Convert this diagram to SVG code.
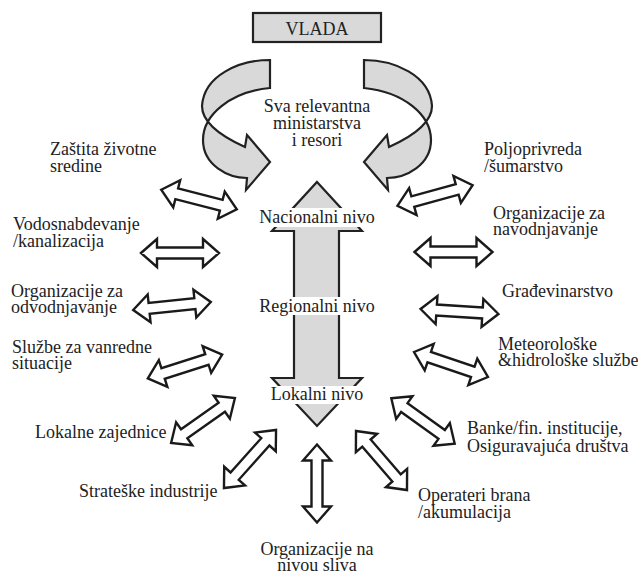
<svg xmlns="http://www.w3.org/2000/svg" xmlns:xlink="http://www.w3.org/1999/xlink" width="638" height="574" viewBox="0 0 638 574">
<style>
text{font-family:"Liberation Serif","Times New Roman",serif;font-size:18px;fill:#222}
.c{text-anchor:middle}
.g{fill:#d9d9d9;stroke:#222;stroke-width:2.2;stroke-linejoin:miter}
.da{fill:#fff;stroke:#1a1a1a;stroke-width:2.4;stroke-linejoin:miter}
.bg{fill:#fff}
</style>
<defs>
<path id="da" d="M-39,0 L-23,-14 L-23,-5.5 L23,-5.5 L23,-14 L39,0 L23,14 L23,5.5 L-23,5.5 L-23,14 Z"/>
<path id="curl" d="M270,60 C240,60 204,75 202,106 C202,124 225,138 245,147 L247,135 L270,162 L246,190 L247,178 C228,178 203,165 203,140 C203,115 230,92 270,88 Z"/>
</defs>
<g id="vlada">
<rect x="253" y="13" width="128" height="29" class="g"/>
<text x="317" y="34.5" class="c">VLADA</text>
</g>
<g id="ministarstva">
<use xlink:href="#curl" class="g"/>
<use xlink:href="#curl" class="g" transform="translate(634,0) scale(-1,1)"/>
<text x="317" y="112" class="c">Sva relevantna</text>
<text x="317" y="129" class="c">ministarstva</text>
<text x="317" y="146" class="c">i resori</text>
</g>
<g id="nivoi">
<path class="g" d="M317,182 L362,231 L339,231 L339,378 L362,378 L317,426 L272,378 L294,378 L294,231 L272,231 Z"/>
<rect class="bg" x="259" y="208" width="116" height="19"/>
<text x="317" y="223" class="c">Nacionalni nivo</text>
<rect class="bg" x="260" y="297" width="114" height="18"/>
<text x="317" y="312" class="c">Regionalni nivo</text>
<rect class="bg" x="270" y="386" width="94" height="18"/>
<text x="317" y="400" class="c">Lokalni nivo</text>
</g>
<g id="connectors" class="da">
<use xlink:href="#da" transform="translate(199,199.5) rotate(14.4)"/>
<use xlink:href="#da" transform="translate(180,253)"/>
<use xlink:href="#da" transform="translate(172,306) rotate(-5.9)"/>
<use xlink:href="#da" transform="translate(185,366.5) rotate(-17.7)"/>
<use xlink:href="#da" transform="translate(203,420.5) rotate(-35.1)"/>
<use xlink:href="#da" transform="translate(250,459) rotate(-48.1)"/>
<use xlink:href="#da" transform="translate(317,483.5) rotate(90)"/>
<use xlink:href="#da" transform="translate(435,195.5) rotate(-15.4)"/>
<use xlink:href="#da" transform="translate(453.5,252)"/>
<use xlink:href="#da" transform="translate(459.5,311.5) rotate(3.7)"/>
<use xlink:href="#da" transform="translate(451,364.5) rotate(18.7)"/>
<use xlink:href="#da" transform="translate(423,421) rotate(35.7)"/>
<use xlink:href="#da" transform="translate(381.5,460.5) rotate(49.2)"/>
</g>
<g id="zastita"><text x="50" y="155">Zaštita životne</text><text x="50" y="172">sredine</text></g>
<g id="vodosnabdevanje"><text x="13" y="230">Vodosnabdevanje</text><text x="13" y="247">/kanalizacija</text></g>
<g id="odvodnjavanje"><text x="11" y="297">Organizacije za</text><text x="11" y="313">odvodnjavanje</text></g>
<g id="sluzbe"><text x="12" y="353">Službe za vanredne</text><text x="12" y="369">situacije</text></g>
<g id="lokalne"><text x="35" y="438">Lokalne zajednice</text></g>
<g id="strateske"><text x="79" y="497">Strateške industrije</text></g>
<g id="sliv"><text x="317" y="555" class="c">Organizacije na</text><text x="317" y="571" class="c">nivou sliva</text></g>
<g id="poljoprivreda"><text x="484" y="155">Poljoprivreda</text><text x="484" y="172">/šumarstvo</text></g>
<g id="navodnjavanje"><text x="493" y="219">Organizacije za</text><text x="493" y="235">navodnjavanje</text></g>
<g id="gradjevinarstvo"><text x="502" y="297">Građevinarstvo</text></g>
<g id="meteo"><text x="498" y="350">Meteorološke</text><text x="498" y="366">&amp;hidrološke službe</text></g>
<g id="banke"><text x="467" y="434">Banke/fin. institucije,</text><text x="467" y="452">Osiguravajuća društva</text></g>
<g id="operateri"><text x="418" y="501">Operateri brana</text><text x="418" y="518">/akumulacija</text></g>
</svg>
